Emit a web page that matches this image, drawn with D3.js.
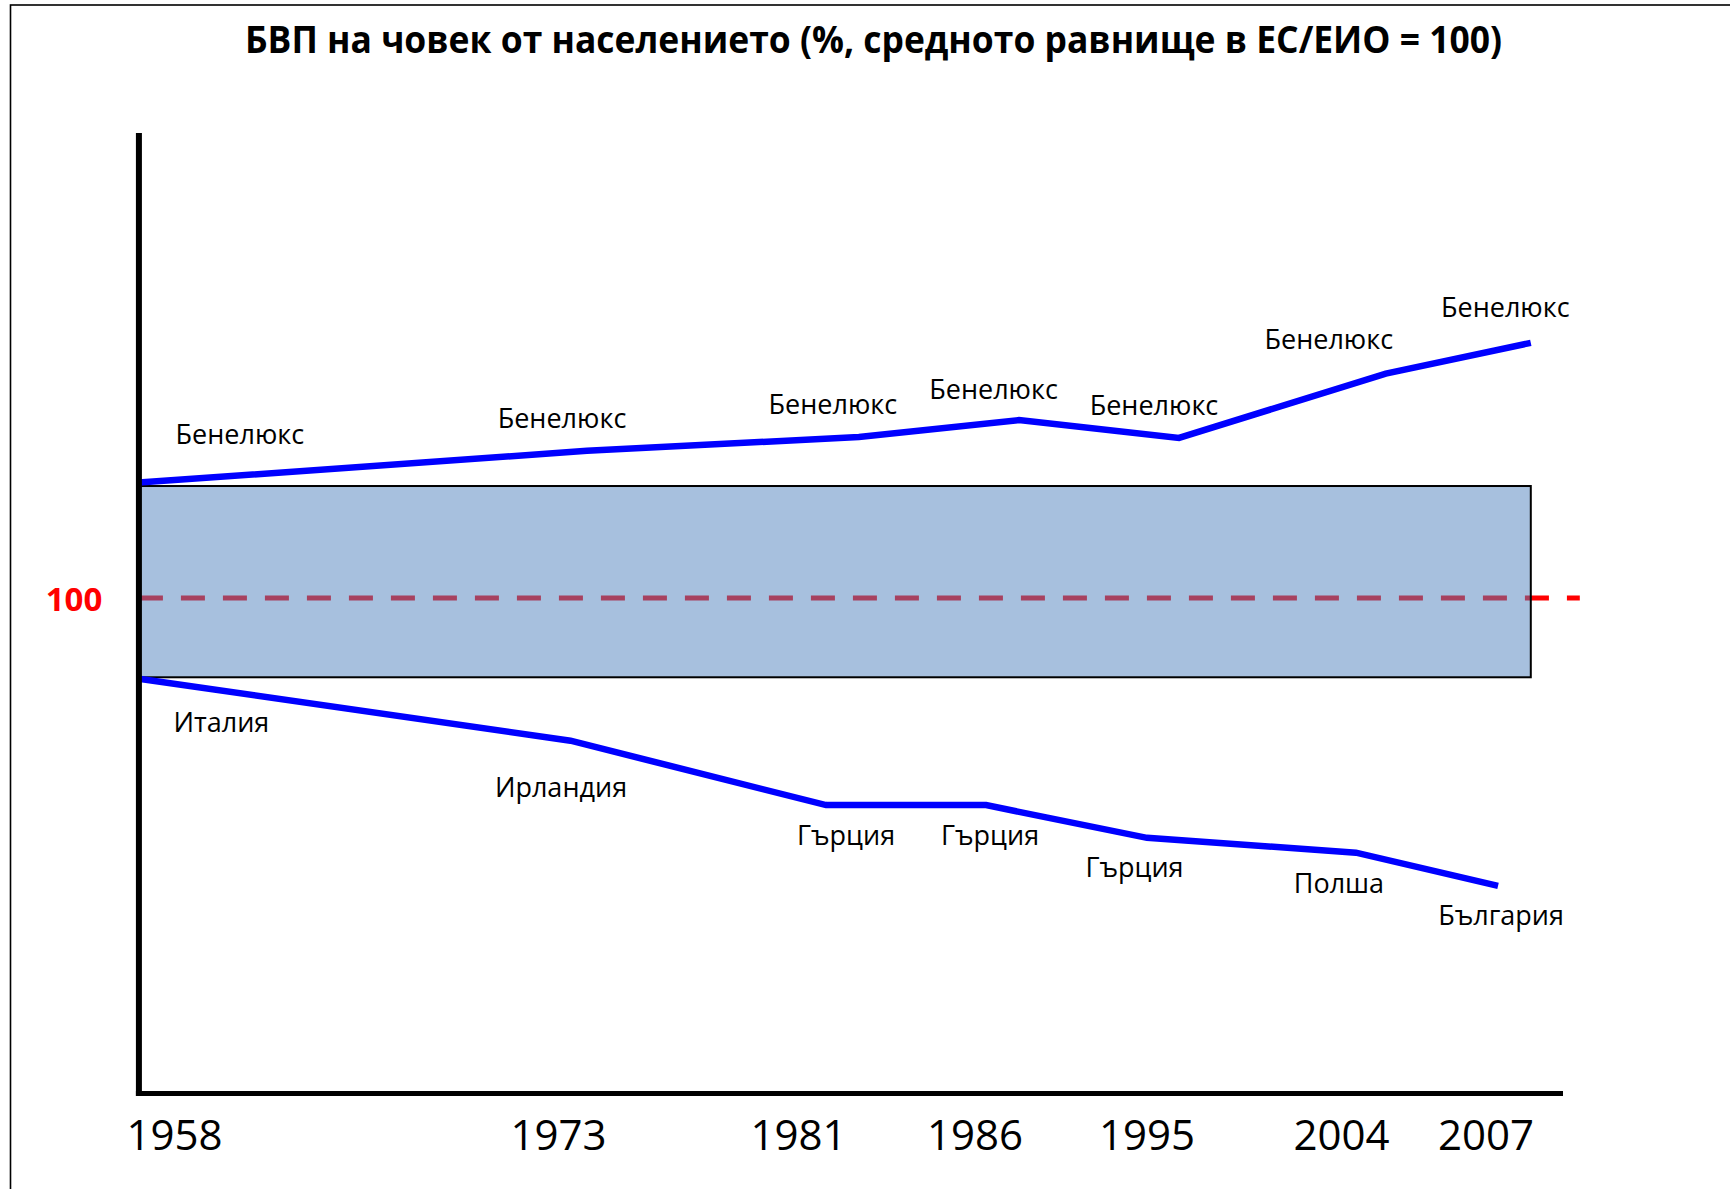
<!DOCTYPE html>
<html>
<head>
<meta charset="utf-8">
<script src="https://cdn.jsdelivr.net/npm/d3@7"></script>
<style>
  html, body { margin: 0; padding: 0; background: #fff; }
  svg { display: block; }
</style>
</head>
<body>
<svg id="chart" width="1730" height="1189"></svg>
<script>
// ---------------- DATA ----------------
const years = [1958, 1973, 1981, 1986, 1995, 2004, 2007];
const yearLabels = ["1958", "1973", "1981", "1986", "1995", "2004", "2007"];

const topLabels = ["Бенелюкс", "Бенелюкс", "Бенелюкс", "Бенелюкс", "Бенелюкс", "Бенелюкс", "Бенелюкс"];
const topX      = [1956.61, 1973.95, 1982.71, 1988.30, 1996.48, 2004.92, 2007.93];
const topValues = [123.3, 129.7, 132.5, 135.9, 132.3, 145.3, 151.5];

const bottomLabels = ["Италия", "Ирландия", "Гърция", "Гърция", "Гърция", "Полша", "България"];
const bottomX      = [1956.61, 1973.40, 1981.78, 1986.58, 1995.00, 2004.30, 2007.25];
const bottomValues = [83.7, 71.2, 58.2, 58.2, 51.6, 48.6, 41.9];

const bandLow = 84.0;
const bandHigh = 122.6;
const referenceValue = 100;
const referenceLabel = "100";

const title = "БВП на човек от населението (%, средното равнище в ЕС/ЕИО = 100)";

// ---------------- LAYOUT ----------------
const W = 1730, H = 1189;
const tickCenters = [174.5, 558.5, 798.5, 975, 1147, 1341.5, 1486];
const axisRight = 1563, axisTop = 133, axisBottom = 1093.5;
const font = "'Open Sans', 'Noto Sans', sans-serif";

const topNudge = [[101, -38.7], [-25, -22.7], [-26, -23], [-25.4, -21], [-25, -23], [-57, -24.5], [-25.5, -26]];
const bottomNudge = [[82.5, 53.3], [-9.5, 56.6], [20, 40], [4, 40], [-12.5, 39.3], [-17, 40.3], [3, 39]];

const x = d3.scaleLinear().domain(years).range(tickCenters);
const y = d3.scaleLinear().domain([0, 100]).range([axisBottom, 598]);

const axisLeft = x(topX[0]);

const svg = d3.select("#chart");

svg.append("rect").attr("width", W).attr("height", H).attr("fill", "#fff");

// frame
svg.append("rect")
  .attr("x", 10.5).attr("y", 5).attr("width", W + 20).attr("height", H + 20)
  .attr("fill", "none").attr("stroke", "#000").attr("stroke-width", 1.6);

// title
svg.append("text")
  .attr("x", 873.5).attr("y", 53.3)
  .attr("text-anchor", "middle")
  .attr("font-family", font).attr("font-weight", "bold").attr("font-size", 37)
  .attr("textLength", 1257).attr("lengthAdjust", "spacingAndGlyphs")
  .attr("fill", "#000")
  .text(title);

// reference dashed line (full width, under band)
const bandRight = x(topX[topX.length - 1]);
svg.append("line")
  .attr("x1", axisLeft).attr("x2", bandRight + 49)
  .attr("y1", y(referenceValue)).attr("y2", y(referenceValue))
  .attr("stroke", "#FF0000").attr("stroke-width", 5)
  .attr("stroke-dasharray", "24,18");

// band
svg.append("rect")
  .attr("x", axisLeft).attr("y", y(bandHigh))
  .attr("width", bandRight - axisLeft).attr("height", y(bandLow) - y(bandHigh))
  .attr("fill", "#4F81BD").attr("fill-opacity", 0.5)
  .attr("stroke", "#000").attr("stroke-width", 2);

// reference label
svg.append("text")
  .attr("x", 74).attr("y", y(referenceValue) + 12.7)
  .attr("text-anchor", "middle")
  .attr("font-family", font).attr("font-weight", "bold").attr("font-size", 33)
  .attr("fill", "#FF0000")
  .text(referenceLabel);

// lines
const line = d3.line().x(d => x(d[0])).y(d => y(d[1]));
const topData = topX.map((v, i) => [v, topValues[i]]);
const bottomData = bottomX.map((v, i) => [v, bottomValues[i]]);

[topData, bottomData].forEach(data => {
  svg.append("path")
    .datum(data)
    .attr("d", line)
    .attr("fill", "none")
    .attr("stroke", "#0000FF")
    .attr("stroke-width", 6.5)
    .attr("stroke-linejoin", "miter");
});

// labels
svg.append("g").selectAll("text").data(topData).join("text")
  .attr("x", (d, i) => x(d[0]) + topNudge[i][0])
  .attr("y", (d, i) => y(d[1]) + topNudge[i][1])
  .attr("text-anchor", "middle")
  .attr("font-family", font).attr("font-size", 27).attr("fill", "#000")
  .text((d, i) => topLabels[i]);

svg.append("g").selectAll("text").data(bottomData).join("text")
  .attr("x", (d, i) => x(d[0]) + bottomNudge[i][0])
  .attr("y", (d, i) => y(d[1]) + bottomNudge[i][1])
  .attr("text-anchor", "middle")
  .attr("font-family", font).attr("font-size", 27).attr("fill", "#000")
  .text((d, i) => bottomLabels[i]);

// axes
svg.append("line")
  .attr("x1", axisLeft).attr("x2", axisLeft)
  .attr("y1", axisTop).attr("y2", axisBottom + 2.5)
  .attr("stroke", "#000").attr("stroke-width", 6);
svg.append("line")
  .attr("x1", axisLeft - 3).attr("x2", axisRight)
  .attr("y1", axisBottom).attr("y2", axisBottom)
  .attr("stroke", "#000").attr("stroke-width", 5);

// year tick labels
svg.append("g").selectAll("text").data(years).join("text")
  .attr("x", d => x(d))
  .attr("y", 1150)
  .attr("text-anchor", "middle")
  .attr("font-family", font).attr("font-size", 42).attr("fill", "#000")
  .text((d, i) => yearLabels[i]);
</script>
</body>
</html>
